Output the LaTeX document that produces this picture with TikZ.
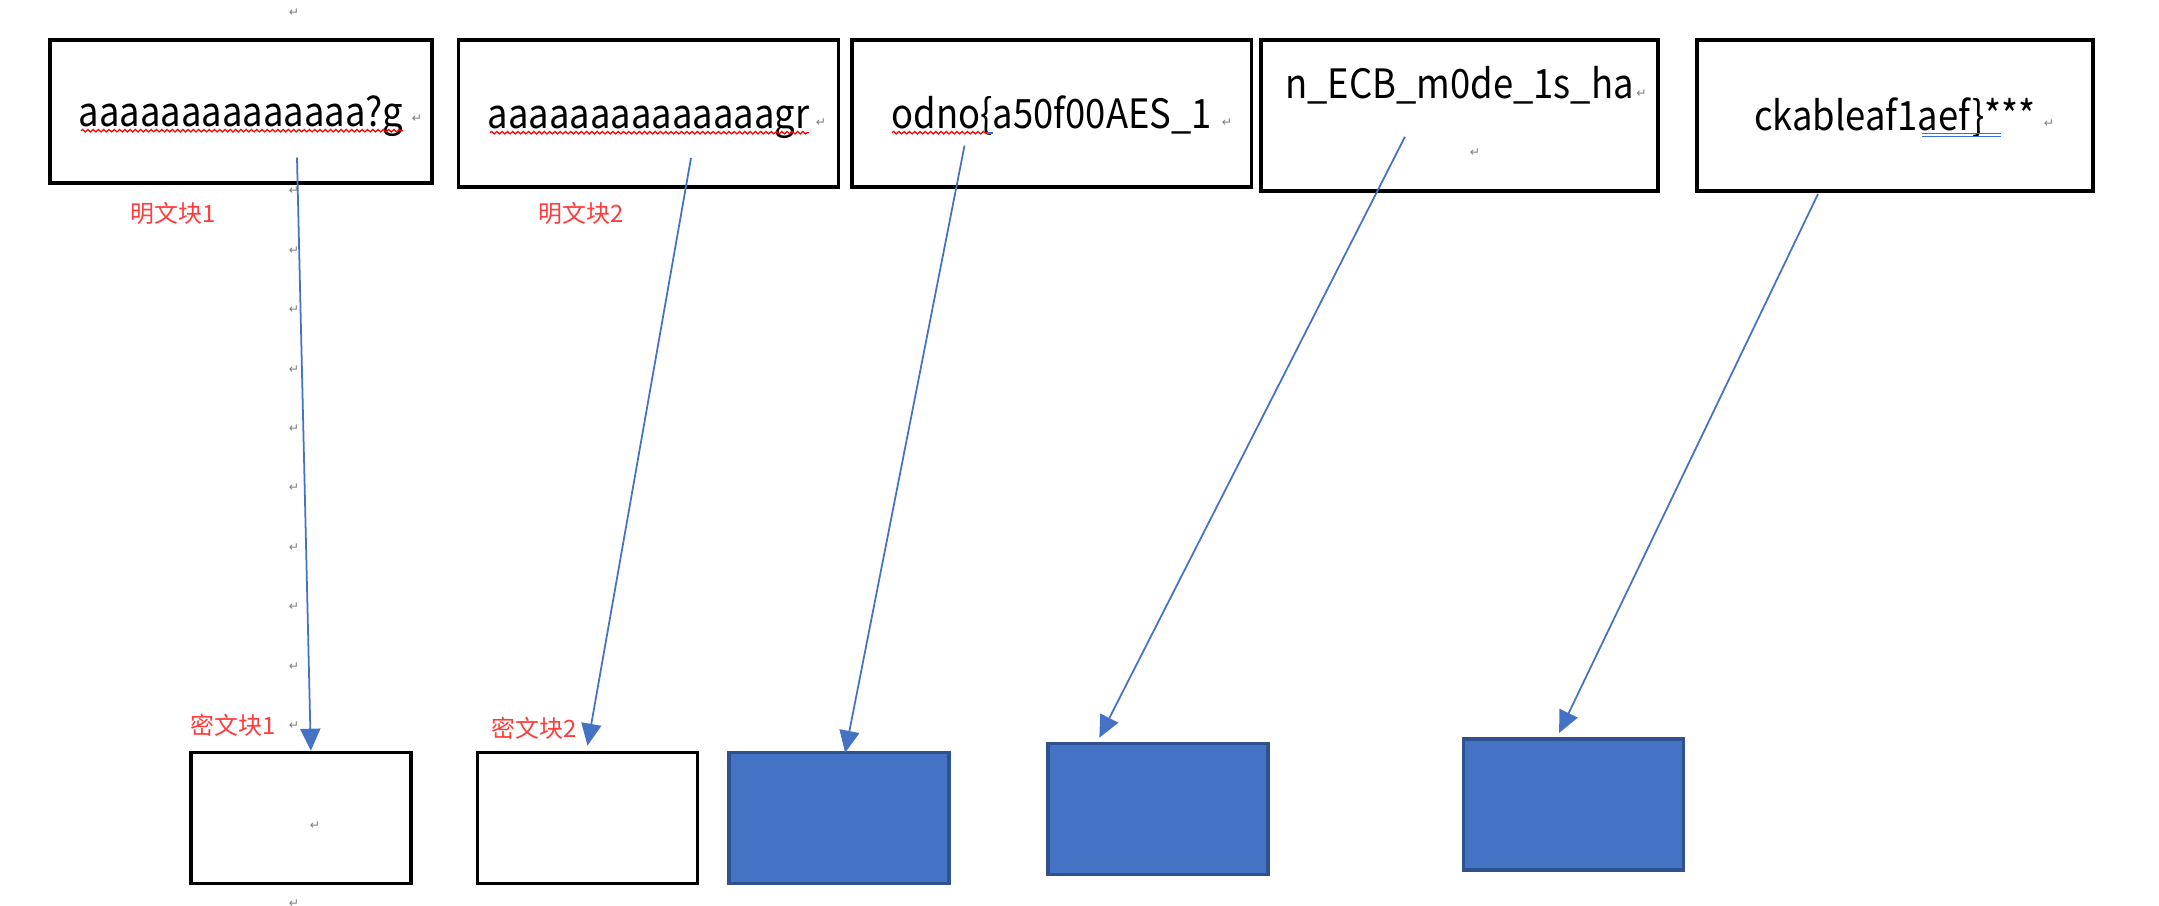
\documentclass[tikz,border=0pt]{standalone}
\usepackage{fontspec}
\setmainfont{Noto Sans CJK SC}
\newfontfamily\blockfont[FakeStretch=0.9]{Noto Sans CJK SC}
\newfontfamily\markfont{DejaVu Sans}
\usetikzlibrary{arrows.meta,positioning,calc,decorations.pathmorphing}
\definecolor{Blue}{HTML}{4472C4}
\definecolor{Navy}{HTML}{2F528F}
\definecolor{Tag}{HTML}{FF3B3B}
\definecolor{Mark}{HTML}{7F7F7F}
\definecolor{Spell}{HTML}{FF0000}
\definecolor{Grammar}{HTML}{3A6FD8}
\tikzset{
  plainblock/.style={
    draw=black,line width=1pt,fill=white,inner sep=0pt,
    minimum height=1.45cm,text height=11pt,text depth=2.3pt,
    font=\blockfont\fontsize{11.5}{14}\selectfont
  },
  cipherblock/.style={
    draw=black,line width=1pt,fill=white,inner sep=0pt,
    minimum width=2.2cm,minimum height=1.31cm
  },
  filledblock/.style={cipherblock,draw=Navy,fill=Blue},
  tag/.style={font=\fontsize{6.8}{8}\selectfont,text=Tag,inner sep=0pt},
  pmark/.style={font=\markfont\fontsize{3.5}{4}\selectfont,text=Mark,inner sep=0pt},
  arrow/.style={-{Triangle[length=0.22cm,width=0.2cm]},line width=0.5pt,draw=Blue},
  spell/.style={
    draw=Spell,line width=0.35pt,decorate,
    decoration={snake,amplitude=0.35pt,segment length=1.5pt}
  }
}

\begin{document}
\begin{tikzpicture}[x=0.01cm,y=-0.01cm]
  \useasboundingbox (0,0) rectangle (2159,906);
  \foreach \k in {-3,...,12}
    \node[pmark] (col\k) at (294,{191+59.4*\k}) {↵};

  \node[plainblock,minimum width=3.82cm,minimum height=1.43cm,anchor=north west] (p1) at (48,38) {aaaaaaaaaaaaaa?g};
  \node[plainblock,minimum width=3.80cm,minimum height=1.47cm,right=0.23cm of p1.north east,anchor=north west] (p2) {aaaaaaaaaaaaaagr};
  \node[plainblock,minimum width=3.99cm,minimum height=1.47cm,right=0.10cm of p2.north east,anchor=north west] (p3) {odno\{a50f00AES\_1};
  \node[plainblock,minimum width=3.97cm,minimum height=1.51cm,text height=9pt,text depth=18.4pt,right=0.06cm of p3.north east,anchor=north west] (p4) {n\_ECB\_m0de\_1s\_ha};
  \node[plainblock,minimum width=3.96cm,minimum height=1.51cm,right=0.35cm of p4.north east,anchor=north west] (p5) {ckableaf1aef\}***};

  \node[tag] (m1) at (173.5,213) {明文块1};
  \node[tag] (m2) at (581.5,213) {明文块2};

  \node[cipherblock,anchor=north west] (c1) at (189,750.7) {};
  \node[cipherblock,right=0.63cm of c1.north east,anchor=north west] (c2) {};
  \node[filledblock,right=0.28cm of c2.north east,anchor=north west] (c3) {};
  \node[filledblock,right=0.95cm of c3.north east,anchor=north west,yshift=0.09cm] (c4) {};
  \node[filledblock,right=1.92cm of c4.north east,anchor=north west,yshift=0.047cm] (c5) {};

  \node[tag] (k1) at (233,725) {密文块1};
  \node[tag] (k2) at (534.5,728) {密文块2};

  \foreach \x/\y [count=\i] in {417/119,821/122.7,1227/122.7,1641.5/94,1475/152.7,2049/124,315/825.7}
    \node[pmark] (tm\i) at (\x,\y) {↵};

  \draw[spell] (81,130.7) -- (403,130.7);
  \draw[spell] (490,132.7) -- (809,132.7);
  \draw[spell] (892,132.7) -- (987,132.7);
  \draw[Grammar,line width=0.5pt] (987,133) -- (993,133);
  \draw[Grammar,line width=0.35pt] (1922,133.7) -- (2000.6,133.7) (1922,136.3) -- (2000.6,136.3);

  \coordinate (s1) at (297,157.5);
  \coordinate (s2) at (691,158);
  \coordinate (s3) at (964.5,145.7);
  \coordinate (s4) at (1405,136.7);
  \coordinate (s5) at (1818,194);
  \draw[arrow] (s1) -- ($(c1.north)+(10,0)$);
  \draw[arrow] (s2) -- ($(c2.north)+(0,-5)$);
  \draw[arrow] (s3) -- ($(c3.north)+(6,2)$);
  \draw[arrow] (s4) -- ($(c4.north)+(-58.5,-4)$);
  \draw[arrow] (s5) -- ($(c5.north)+(-14.5,-4)$);
\end{tikzpicture}
\end{document}
